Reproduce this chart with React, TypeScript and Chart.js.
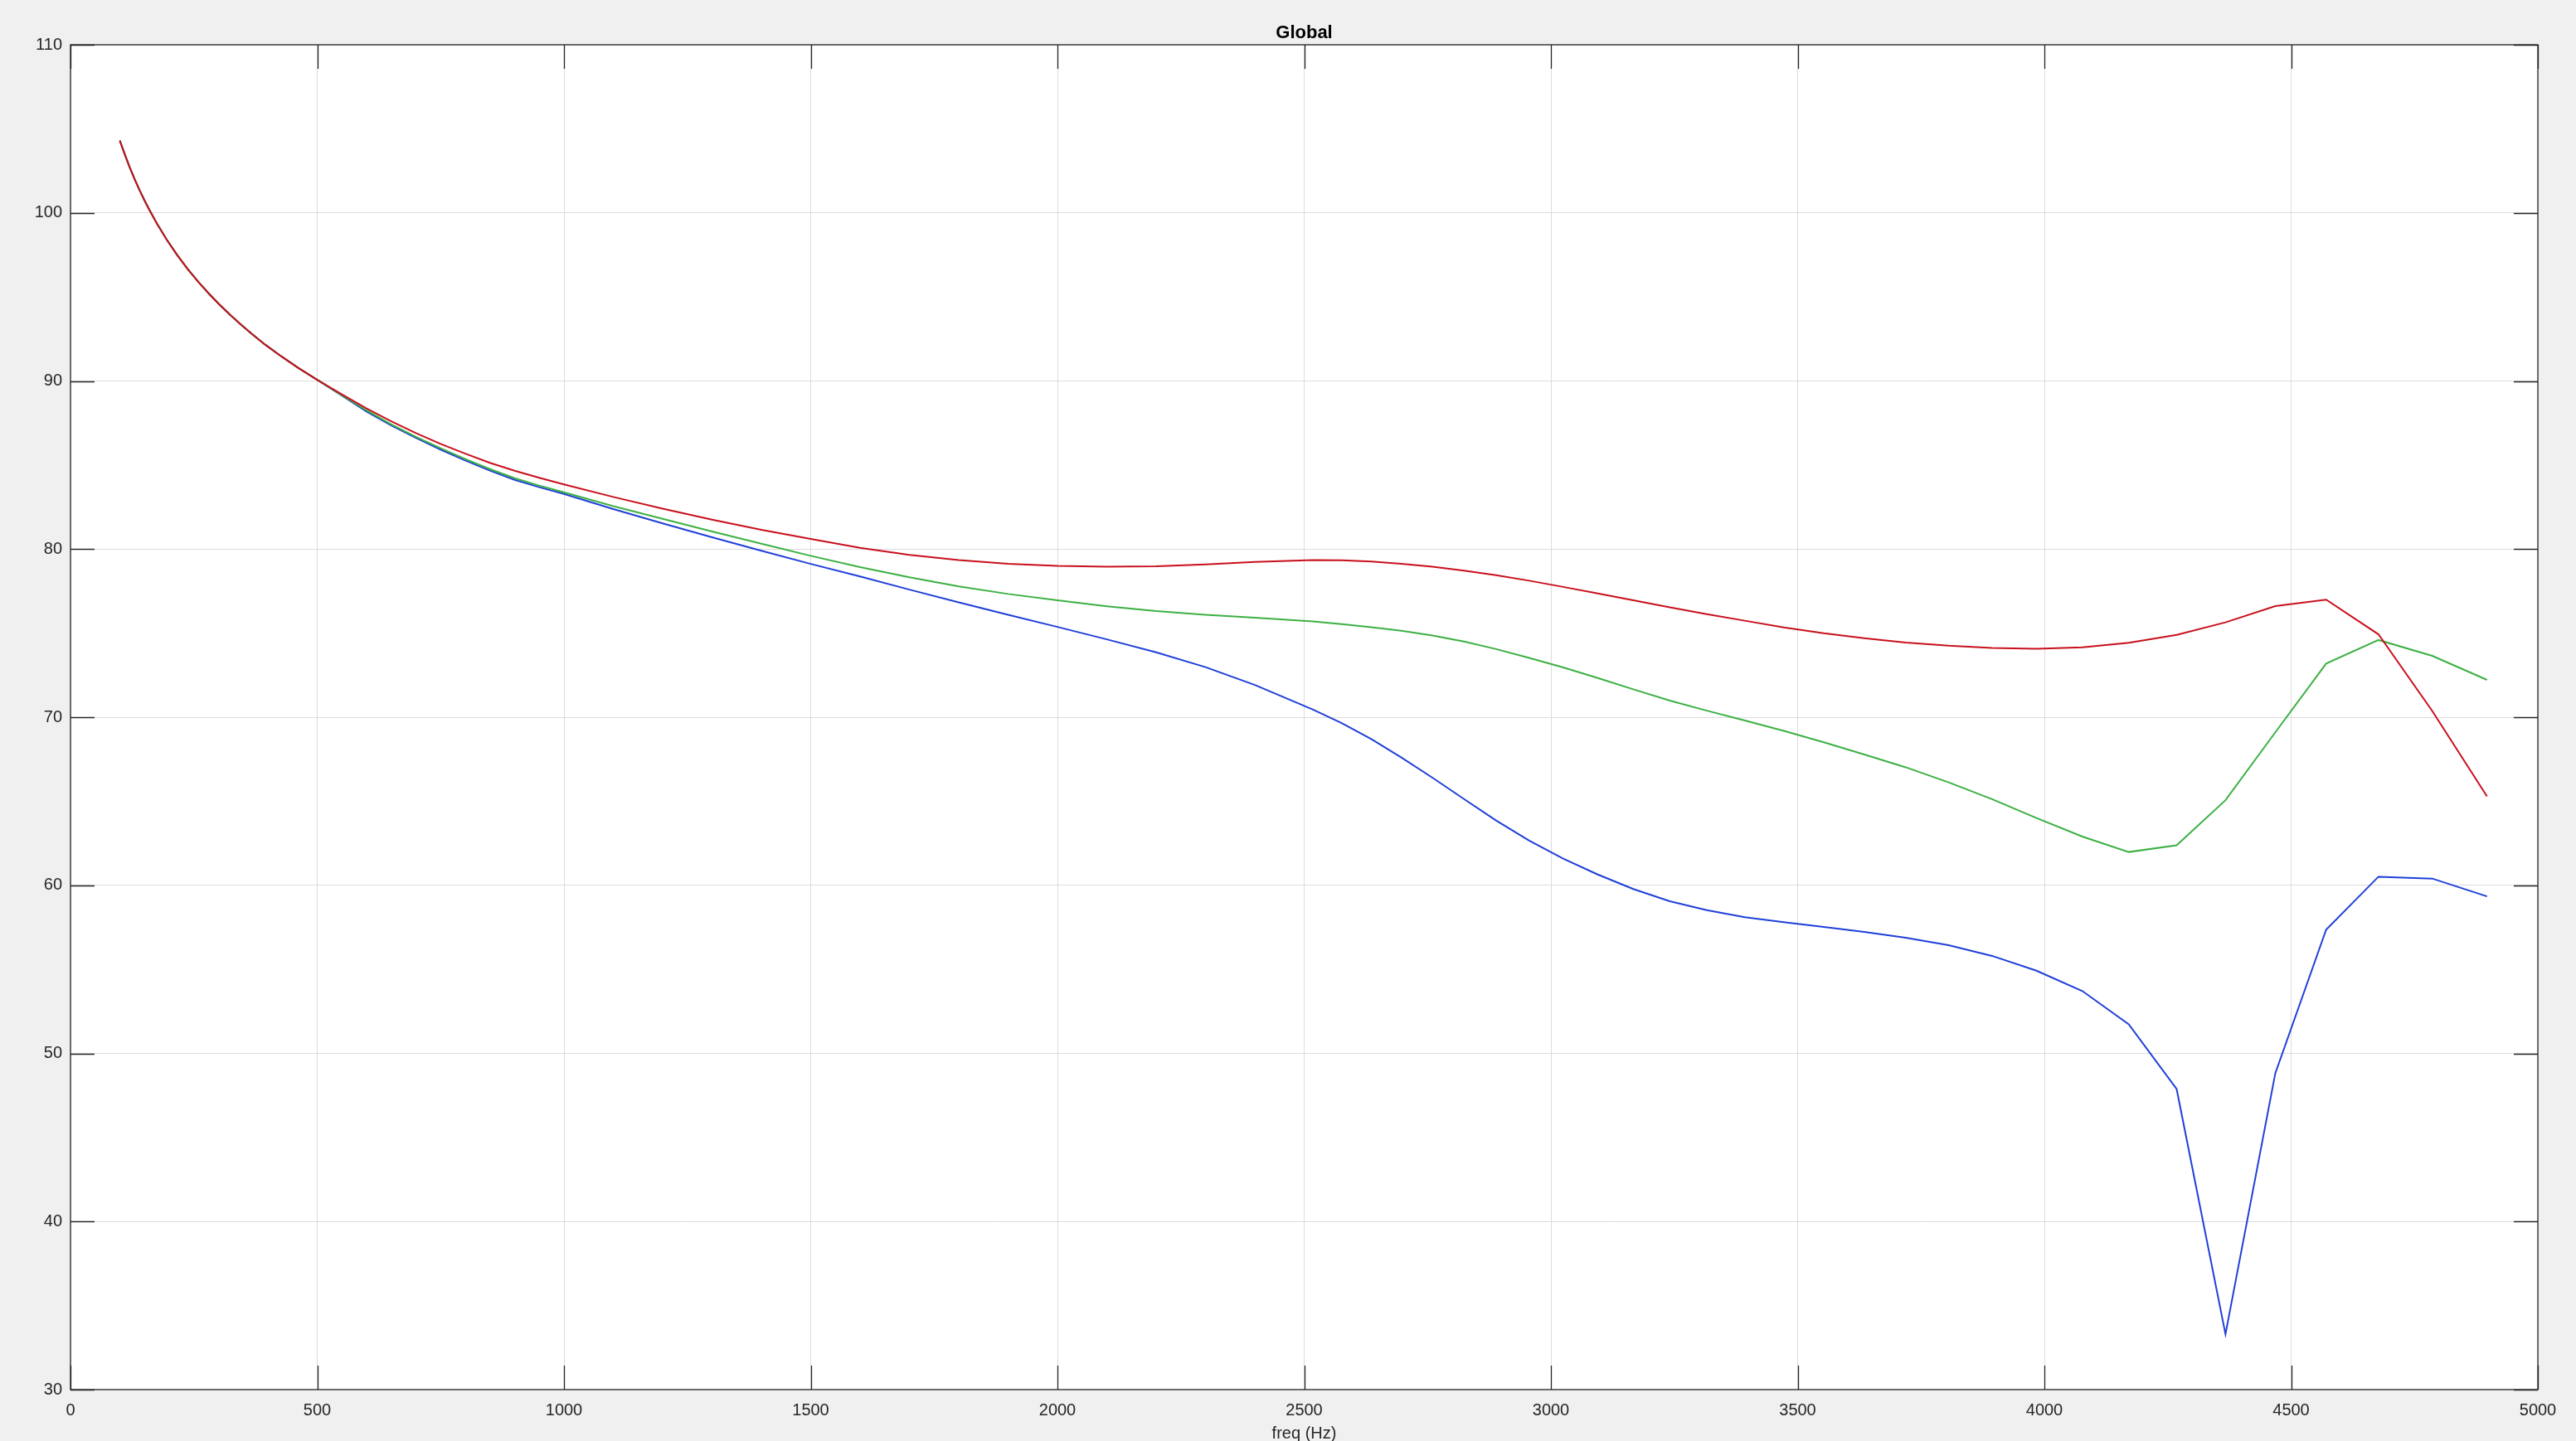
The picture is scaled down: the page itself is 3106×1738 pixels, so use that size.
import React, { useEffect, useRef } from "react";
import { Chart, registerables } from "chart.js";

Chart.register(...registerables);

const FONT = "'Liberation Sans', Arial, Helvetica, sans-serif";

// frequency axis (Hz)
const freqHz = [
  100, 110, 120, 130, 140, 150, 160, 175, 195, 215, 238, 260, 281, 300, 324, 345, 366, 395, 427, 460, 500,
  550, 600, 650, 700, 750, 800, 850, 900, 950,
  1000, 1100, 1200, 1300, 1400, 1500, 1600, 1700, 1800, 1900, 2000, 2100, 2200, 2300, 2400,
  2518, 2576, 2636, 2697, 2760, 2824, 2889, 2956, 3025, 3095,
  3167, 3241, 3316, 3393, 3472, 3553, 3635, 3719, 3806, 3894,
  3984, 4077, 4171, 4268, 4367, 4468, 4571, 4677, 4786, 4897,
];

// common low-frequency part (all three curves overlap there)
const lowShared = [
  104.3, 103.48, 102.71, 102.0, 101.35, 100.74, 100.17, 99.37, 98.41, 97.54, 96.64, 95.86, 95.18, 94.6, 93.92, 93.37, 92.84, 92.15, 91.47, 90.81, 90.07,
];

const redLevel = [
  ...lowShared,
  89.2, 88.37, 87.6, 86.9, 86.26, 85.68, 85.13, 84.66, 84.24,
  83.85, 83.1, 82.4, 81.75, 81.15, 80.6, 80.07, 79.66, 79.35, 79.13, 79.0, 78.95, 78.98, 79.09, 79.23,
  79.35, 79.33, 79.26, 79.13, 78.95, 78.72, 78.45, 78.12, 77.75, 77.36,
  76.95, 76.54, 76.13, 75.74, 75.34, 74.99, 74.7, 74.44, 74.25, 74.12,
  74.07, 74.16, 74.43, 74.9, 75.64, 76.61, 76.99, 74.93, 70.37, 65.29,
];

const greenLevel = [
  ...lowShared,
  89.15, 88.25, 87.42, 86.68, 86.0, 85.36, 84.76, 84.22, 83.78,
  83.38, 82.55, 81.8, 81.05, 80.32, 79.6, 78.93, 78.32, 77.78, 77.33, 76.95, 76.6, 76.31, 76.09, 75.92,
  75.7, 75.54, 75.35, 75.14, 74.86, 74.5, 74.05, 73.53, 72.96, 72.33,
  71.66, 70.99, 70.39, 69.8, 69.19, 68.51, 67.78, 67.02, 66.12, 65.12,
  64.0, 62.9, 61.98, 62.38, 65.06, 69.1, 73.19, 74.59, 73.65, 72.22,
];

const blueLevel = [
  ...lowShared,
  89.13, 88.18, 87.35, 86.62, 85.92, 85.27, 84.67, 84.12, 83.68,
  83.28, 82.38, 81.53, 80.7, 79.9, 79.12, 78.37, 77.59, 76.83, 76.09, 75.37, 74.63, 73.86, 72.98, 71.92,
  70.45, 69.65, 68.7, 67.6, 66.4, 65.13, 63.85, 62.66, 61.58, 60.64,
  59.78, 59.05, 58.52, 58.1, 57.8, 57.52, 57.22, 56.88, 56.44, 55.8,
  54.92, 53.71, 51.73, 47.88, 33.3, 48.82, 57.36, 60.51, 60.4, 59.34,
];

const xTickValues = [0, 500, 1000, 1500, 2000, 2500, 3000, 3500, 4000, 4500, 5000];
const yTickValues = [30, 40, 50, 60, 70, 80, 90, 100, 110];

const titleText = "Global";
const xLabelText = "freq (Hz)";

const toPoints = (ys: number[]) => freqHz.map((f, i) => ({ x: f, y: ys[i] }));

const framePlugin = {
  id: "matlabFrame",
  beforeDraw(chart: any) {
    const { ctx, chartArea: a, width, height } = chart;
    ctx.save();
    ctx.fillStyle = "#f0f0f0";
    ctx.fillRect(0, 0, width, height);
    ctx.fillStyle = "#ffffff";
    ctx.fillRect(a.left, a.top, a.right - a.left, a.bottom - a.top);
    ctx.restore();
  },
  afterDraw(chart: any) {
    const { ctx, chartArea: a } = chart;
    const xs = chart.scales.x;
    const ys = chart.scales.y;
    const tl = 29;
    ctx.save();
    ctx.strokeStyle = "#262626";
    ctx.lineWidth = 1.3;
    ctx.beginPath();
    xTickValues.forEach((v) => {
      const px = Math.round(xs.getPixelForValue(v)) + 0.5;
      ctx.moveTo(px, a.bottom);
      ctx.lineTo(px, a.bottom - tl);
      ctx.moveTo(px, a.top);
      ctx.lineTo(px, a.top + tl);
    });
    yTickValues.forEach((v) => {
      const py = Math.round(ys.getPixelForValue(v)) + 0.5;
      ctx.moveTo(a.left, py);
      ctx.lineTo(a.left + tl, py);
      ctx.moveTo(a.right, py);
      ctx.lineTo(a.right - tl, py);
    });
    ctx.stroke();
    ctx.strokeRect(a.left, a.top, a.right - a.left, a.bottom - a.top);

    ctx.fillStyle = "#000000";
    ctx.textAlign = "center";
    ctx.textBaseline = "alphabetic";
    ctx.font = `bold 22px ${FONT}`;
    ctx.fillText(titleText, (a.left + a.right) / 2, 46);
    ctx.fillStyle = "#262626";
    ctx.font = `20px ${FONT}`;
    ctx.fillText(xLabelText, (a.left + a.right) / 2, 1735);
    ctx.restore();
  },
};

export default function App() {
  const canvasRef = useRef<HTMLCanvasElement | null>(null);

  useEffect(() => {
    document.body.style.margin = "0";
    document.body.style.background = "#f0f0f0";
    const canvas = canvasRef.current;
    if (!canvas) return;
    const chart = new Chart(canvas, {
      type: "line",
      data: {
        datasets: [
          { label: "red", data: toPoints(redLevel), borderColor: "#c8101c", borderWidth: 2, pointRadius: 0, tension: 0, fill: false },
          { label: "green", data: toPoints(greenLevel), borderColor: "#3cb043", borderWidth: 2, pointRadius: 0, tension: 0, fill: false },
          { label: "blue", data: toPoints(blueLevel), borderColor: "#1f3fd8", borderWidth: 2, pointRadius: 0, tension: 0, fill: false },
        ],
      },
      options: {
        responsive: false,
        animation: false,
        devicePixelRatio: 1,
        layout: { padding: { top: 54, right: 46, left: 0, bottom: 0 } },
        plugins: {
          legend: { display: false },
          tooltip: { enabled: false },
          title: { display: false },
        },
        scales: {
          x: {
            type: "linear",
            min: 0,
            max: 5000,
            afterBuildTicks: (scale: any) => {
              scale.ticks = xTickValues.map((v) => ({ value: v }));
            },
            afterFit: (scale: any) => {
              scale.height = 62;
            },
            grid: { color: "#dcdcdc", lineWidth: 1, drawTicks: false },
            border: { display: false },
            ticks: {
              autoSkip: false,
              maxRotation: 0,
              padding: 13,
              color: "#262626",
              font: { family: FONT, size: 20 },
              callback: (v: any) => String(v),
            },
          },
          y: {
            type: "linear",
            min: 30,
            max: 110,
            afterBuildTicks: (scale: any) => {
              scale.ticks = yTickValues.map((v) => ({ value: v }));
            },
            afterFit: (scale: any) => {
              scale.width = 85;
            },
            grid: { color: "#dcdcdc", lineWidth: 1, drawTicks: false },
            border: { display: false },
            ticks: {
              autoSkip: false,
              padding: 10,
              color: "#262626",
              font: { family: FONT, size: 20 },
              callback: (v: any) => String(v),
            },
          },
        },
      },
      plugins: [framePlugin],
    });
    return () => chart.destroy();
  }, []);

  return (
    <div style={{ width: 3106, height: 1738, background: "#f0f0f0" }}>
      <canvas ref={canvasRef} width={3106} height={1738} style={{ display: "block", width: 3106, height: 1738 }} />
    </div>
  );
}
